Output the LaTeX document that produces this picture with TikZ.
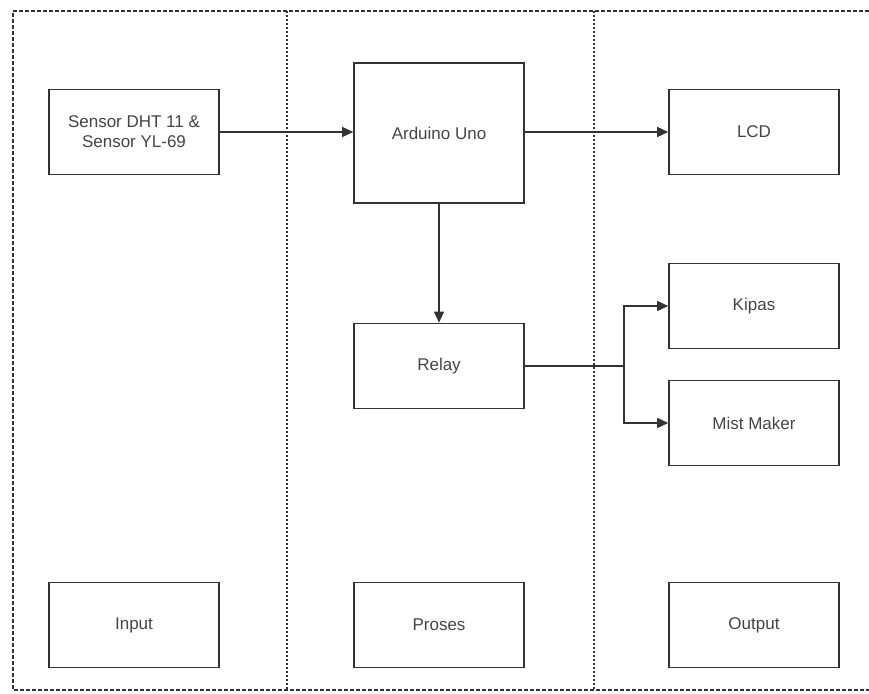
\documentclass[tikz,border=0pt]{standalone}
\usepackage{fontspec}
\setmainfont{Liberation Sans}
\usetikzlibrary{arrows.meta}
\definecolor{linec}{HTML}{333333}
\definecolor{textc}{HTML}{444444}
\begin{document}
\begin{tikzpicture}[x=1pt,y=-1pt,
  blockbox/.style={draw=linec,line width=1.6pt,minimum width=170pt,minimum height=85pt,inner sep=0pt,text=textc,font=\fontsize{17}{20}\selectfont,align=center},
  tallbox/.style={blockbox,minimum height=140pt},
  conn/.style={draw=linec,line width=1.4pt,-{Triangle[length=11pt,width=10pt]}},
  plainconn/.style={draw=linec,line width=1.4pt},
  border/.style={draw=linec,line width=1.2pt,dash pattern=on 4pt off 2pt},
  divider/.style={draw=linec,line width=1.2pt,dash pattern=on 2pt off 2pt}]
\useasboundingbox (0,0) rectangle (869,693);
% frame
\draw[border] (869,11) -- (13,11) -- (13,690) -- (869,690);
\draw[divider] (287,11) -- (287,690);
\draw[divider] (594,11) -- (594,690);
% boxes
\node[blockbox] (sensor) at (134,132) {Sensor DHT 11 \&\\Sensor YL-69};
\node[tallbox] (arduino) at (439,133) {Arduino Uno};
\node[blockbox] (relay) at (439,366) {Relay};
\node[blockbox] (lcd) at (754,132) {LCD};
\node[blockbox] (kipas) at (754,306) {Kipas};
\node[blockbox] (mist) at (754,423) {Mist Maker};
\node[blockbox] (input) at (134,625) {Input};
\node[blockbox] (proses) at (439,625) {Proses};
\node[blockbox] (output) at (754,625) {Output};
% connectors
\draw[conn] (sensor.east) -- (sensor.east -| arduino.west);
\draw[conn] (arduino.east |- lcd.west) -- (lcd.west);
\draw[conn] (arduino.south) -- (relay.north);
\coordinate (split) at (624,366);
\draw[plainconn] (relay.east) -- (split);
\draw[conn] (split) |- (kipas.west);
\draw[conn] (split) |- (mist.west);
\end{tikzpicture}
\end{document}
